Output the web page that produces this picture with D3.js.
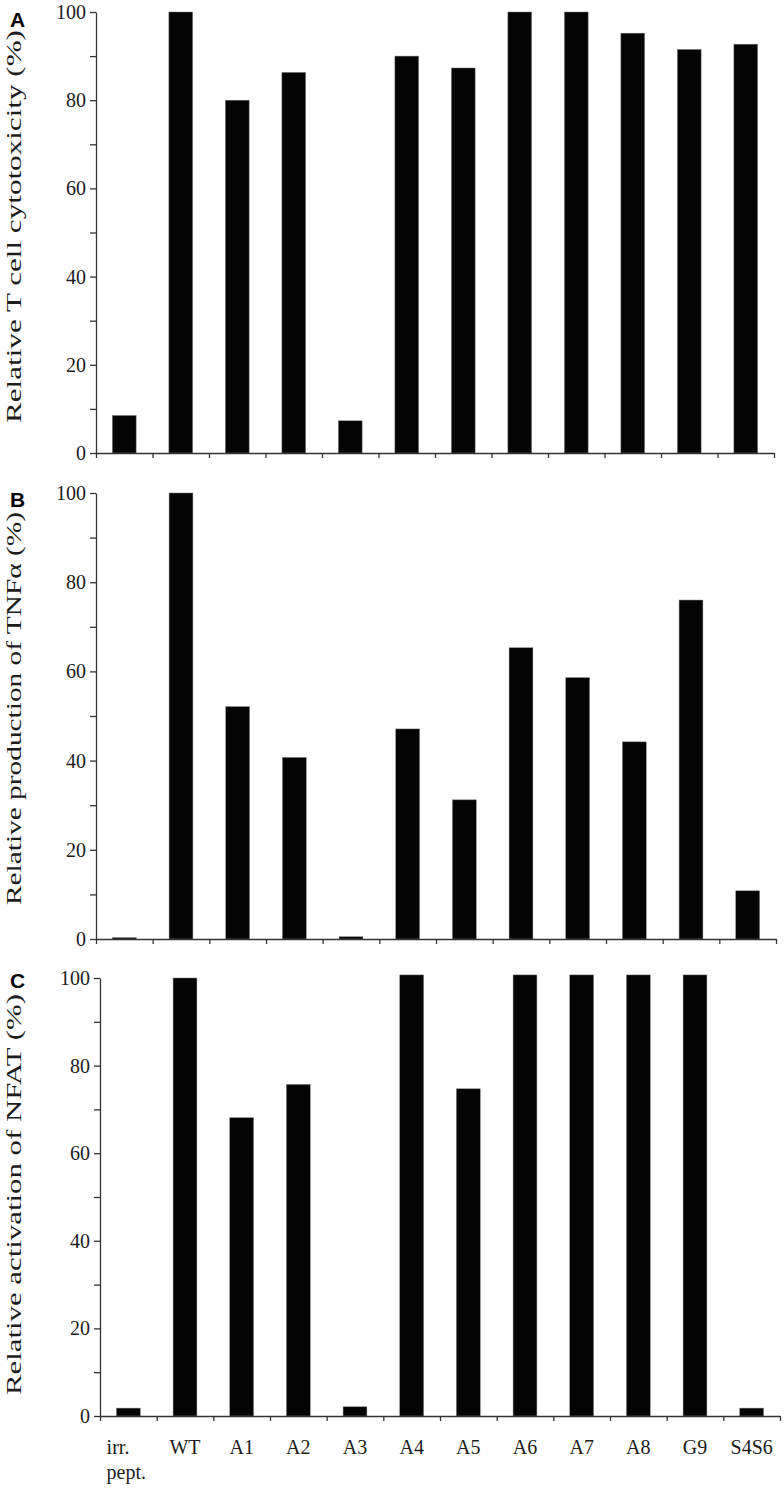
<!DOCTYPE html>
<html><head><meta charset="utf-8">
<script src="https://cdn.jsdelivr.net/npm/d3@7/dist/d3.min.js"></script>
<style>body{margin:0;background:#fff} svg{display:block}</style>
</head><body>
<svg id="chart" width="784" height="1490"></svg>
<script>
// ---- data ----
const categories = ["irr. pept.", "WT", "A1", "A2", "A3", "A4", "A5", "A6", "A7", "A8", "G9", "S4S6"];
const cytotoxicity   = [8.5, 100, 80, 86.3, 7.3, 90, 87.3, 100, 100, 95.2, 91.5, 92.7];
const tnfProduction  = [0.3, 100, 52.1, 40.7, 0.5, 47.1, 31.2, 65.3, 58.6, 44.2, 76, 10.8];
const nfatActivation = [1.8, 100, 68.1, 75.7, 2.1, 100.7, 74.7, 100.7, 100.7, 100.7, 100.7, 1.8];
const yTickValues  = [0, 10, 20, 30, 40, 50, 60, 70, 80, 90, 100];
const yLabelValues = [0, 20, 40, 60, 80, 100];
const panelLetters = ["A", "B", "C"];
const yTitles = ["Relative T cell cytotoxicity (%)", "Relative production of TNF\u03b1 (%)", "Relative activation of NFAT (%)"];
const seriesList = [cytotoxicity, tnfProduction, nfatActivation];

// ---- layout ----
const layout = [
  {x0: 96,  x1: 774, yTop: 12,  yBottom: 453,  letterY: 27,  titleY: 226.5,  titleLen: 393, xLabels: false},
  {x0: 96,  x1: 776, yTop: 493, yBottom: 939,  letterY: 507, titleY: 708.5,  titleLen: 393, xLabels: false},
  {x0: 100, x1: 780, yTop: 978, yBottom: 1416, letterY: 988, titleY: 1194.5, titleLen: 401, xLabels: true}
];
const SERIF = "'Liberation Serif','Times New Roman',Times,serif";
const SANS = "'Liberation Sans',Arial,Helvetica,sans-serif";
const AXIS = "#333";
const INK = "#1c1c1c";

const svg = d3.select("#chart");

seriesList.forEach((values, pi) => {
  const L = layout[pi];
  const g = svg.append("g");

  const x = d3.scaleBand().domain(categories).range([L.x0, L.x1])
      .paddingInner(0.58).paddingOuter(0.29);
  const xi = d3.scaleLinear().domain([0, categories.length]).range([L.x0, L.x1]);
  const y = d3.scaleLinear().domain([0, 100]).range([L.yBottom, L.yTop]);

  // bars
  g.append("g").selectAll("rect").data(values).join("rect")
    .attr("x", (d, i) => x(categories[i]))
    .attr("width", x.bandwidth())
    .attr("y", d => y(d))
    .attr("height", d => y(0) - y(d))
    .attr("fill", "#040404")
    .attr("stroke", "#777").attr("stroke-width", 0.5);

  // y axis
  const ya = g.append("g").attr("transform", `translate(${L.x0},0)`)
    .call(d3.axisLeft(y).tickValues(yTickValues).tickSize(6).tickSizeOuter(0).tickPadding(4)
      .tickFormat(d => yLabelValues.includes(d) ? d : ""));
  ya.selectAll("path,line").attr("stroke", AXIS).attr("stroke-width", 1.3);
  ya.selectAll("text").attr("font-family", SERIF).attr("font-size", 20).attr("fill", INK);

  // x axis (ticks at category boundaries)
  const xa = g.append("g").attr("transform", `translate(0,${L.yBottom})`)
    .call(d3.axisBottom(xi).tickValues(d3.range(categories.length + 1)).tickSize(5).tickSizeOuter(0).tickFormat(""));
  xa.selectAll("path,line").attr("stroke", AXIS).attr("stroke-width", 1.3);

  // panel letter
  g.append("text").attr("x", 10).attr("y", L.letterY)
    .attr("font-family", SANS).attr("font-weight", "bold").attr("font-size", 21)
    .attr("fill", "#000").text(panelLetters[pi]);

  // y title (stretched along its length as in the original)
  g.append("text")
    .attr("transform", `translate(21,${L.titleY + L.titleLen / 2}) rotate(-90)`)
    .attr("text-anchor", "start")
    .attr("font-family", SERIF).attr("font-size", 21).attr("fill", INK)
    .attr("textLength", L.titleLen).attr("lengthAdjust", "spacingAndGlyphs")
    .text(yTitles[pi]);

  // category labels
  if (L.xLabels) {
    categories.forEach(c => {
      const lines = c.split(" ");
      const cx = x(c) + x.bandwidth() / 2;
      const txt = g.append("text")
        .attr("font-family", SERIF).attr("font-size", 20).attr("fill", INK);
      lines.forEach((ln, k) => {
        txt.append("tspan").attr("x", cx).attr("y", L.yBottom + 38 + k * 25).text(ln);
      });
      if (lines.length === 1) {
        txt.attr("text-anchor", "middle");
      } else {
        let maxW = 0;
        txt.selectAll("tspan").each(function() { maxW = Math.max(maxW, this.getComputedTextLength()); });
        txt.selectAll("tspan").attr("x", cx - maxW / 2 - 2);
      }
    });
  }
});
</script>
</body></html>
